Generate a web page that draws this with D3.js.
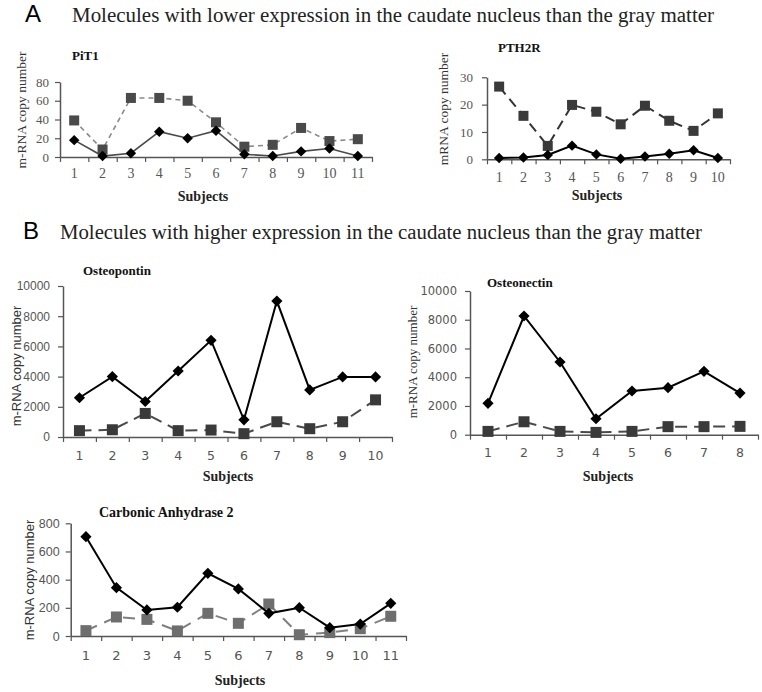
<!DOCTYPE html>
<html>
<head>
<meta charset="utf-8">
<script src="https://cdn.jsdelivr.net/npm/d3@7"></script>
<style>
  body { margin: 0; background: #fff; }
  svg { display: block; }
</style>
</head>
<body>
<svg id="fig" width="762" height="692"></svg>
<script>
// subjects (category labels)
var subjects8 = ['1', '2', '3', '4', '5', '6', '7', '8'];
var subjects10 = ['1', '2', '3', '4', '5', '6', '7', '8', '9', '10'];
var subjects11 = ['1', '2', '3', '4', '5', '6', '7', '8', '9', '10', '11'];

// diamonds = caudate nucleus, squares = gray matter
var pit1Caudate = [18, 1, 4, 27, 20, 28, 3, 1, 6, 9, 1];
var pit1Gray = [39, 8, 63, 63, 60, 37, 11, 13, 31, 17, 19];
var pth2rCaudate = [0.5, 0.7, 1.6, 5, 1.8, 0.2, 1, 2, 3.3, 0.5];
var pth2rGray = [26.6, 15.9, 4.9, 19.9, 17.4, 12.8, 19.6, 14.1, 10.4, 16.8];
var opnCaudate = [2600, 4000, 2350, 4370, 6400, 1140, 9000, 3120, 3980, 3980];
var opnGray = [420, 480, 1560, 420, 460, 220, 1010, 550, 1010, 2460];
var oncCaudate = [2180, 8260, 5060, 1110, 3040, 3270, 4410, 2900];
var oncGray = [230, 900, 230, 160, 230, 560, 560, 580];
var ca2Caudate = [705, 343, 185, 204, 445, 334, 161, 201, 59, 85, 232];
var ca2Gray = [38, 135, 118, 36, 161, 90, 227, 9, 24, 52, 140];

// y tick values
var pit1Ticks = [0, 20, 40, 60, 80];
var pth2rTicks = [0, 10, 20, 30];
var tenKTicks = [0, 2000, 4000, 6000, 8000, 10000];
var ca2Ticks = [0, 200, 400, 600, 800];

var svg = d3.select('#fig');
var SERIF = '"Liberation Serif", "Times New Roman", serif';
var SANS = '"DejaVu Sans", Verdana, sans-serif';
var NARROW = '"Liberation Sans Narrow", "Liberation Sans", sans-serif';
var ARIAL = '"Liberation Sans", Arial, sans-serif';

// section headings
function heading(letter, text, lx, tx, y, len) {
    svg.append('text')
        .attr('x', lx).attr('y', y)
        .attr('font-family', NARROW)
        .attr('font-size', 24)
        .attr('fill', '#000')
        .text(letter);
    svg.append('text')
        .attr('x', tx).attr('y', y)
        .attr('font-family', SERIF)
        .attr('font-size', 20)
        .attr('fill', '#222')
        .attr('textLength', len)
        .attr('lengthAdjust', 'spacingAndGlyphs')
        .text(text);
}
heading('A', 'Molecules with lower expression in the caudate nucleus than the gray matter', 25, 72, 22, 642);
heading('B', 'Molecules with higher expression in the caudate nucleus than the gray matter', 23, 60, 239, 642);

function drawPanel(p) {
    var g = svg.append('g');

    var x = d3.scaleBand()
        .domain(p.cats)
        .range([p.x0, p.x1])
        .padding(0);
    var xb = d3.scaleLinear()
        .domain([0, p.cats.length])
        .range([p.x0, p.x1]);
    var y = d3.scaleLinear()
        .domain([0, p.yMax])
        .range([p.y0, p.yTop]);

    // y axis
    var ya = g.append('g')
        .attr('transform', 'translate(' + p.x0 + ',0)')
        .call(d3.axisLeft(y).tickValues(p.yTicks).tickFormat(d3.format('d'))
            .tickSize(5).tickSizeOuter(0).tickPadding(p.yPad));
    ya.select('.domain').attr('stroke', '#555').attr('stroke-width', 1.5);
    ya.selectAll('.tick line').attr('stroke', '#555').attr('stroke-width', 1.2);
    ya.selectAll('.tick text')
        .attr('font-family', p.yFont || p.tickFont)
        .attr('font-size', p.yFontSize || p.tickSize)
        .attr('fill', '#555');

    // x axis: marks at band edges, labels in band centres
    var xm = g.append('g')
        .attr('transform', 'translate(0,' + p.y0 + ')')
        .call(d3.axisBottom(xb).tickValues(d3.range(p.cats.length + 1)).tickFormat('')
            .tickSize(5).tickSizeOuter(0));
    xm.select('.domain').attr('stroke', '#555').attr('stroke-width', 1.5);
    xm.selectAll('.tick line').attr('stroke', '#555').attr('stroke-width', 1.2);

    var xl = g.append('g')
        .attr('transform', 'translate(0,' + p.y0 + ')')
        .call(d3.axisBottom(x).tickSize(0).tickPadding(p.xPad));
    xl.select('.domain').remove();
    xl.selectAll('.tick text')
        .attr('font-family', p.tickFont)
        .attr('font-size', p.tickSize + 1)
        .attr('fill', '#555');

    var cx = function(d, i) { return x(p.cats[i]) + x.bandwidth() / 2; };

    // gray matter (squares, dashed)
    g.append('path')
        .datum(p.gray)
        .attr('fill', 'none')
        .attr('stroke', p.dashColor)
        .attr('stroke-width', p.dashWidth)
        .attr('stroke-dasharray', p.dash)
        .attr('d', d3.line().x(cx).y(function(d) { return y(d); }));
    g.append('g')
        .selectAll('rect')
        .data(p.gray)
        .enter()
        .append('rect')
            .attr('x', function(d, i) { return cx(d, i) - p.sq / 2; })
            .attr('y', function(d) { return y(d) - p.sq / 2; })
            .attr('width', p.sq)
            .attr('height', p.sq)
            .attr('fill', p.sqColor);

    // caudate nucleus (diamonds, solid)
    g.append('path')
        .datum(p.caudate)
        .attr('fill', 'none')
        .attr('stroke', p.solidColor)
        .attr('stroke-width', p.solidWidth)
        .attr('d', d3.line().x(cx).y(function(d) { return y(d); }));
    g.append('g')
        .selectAll('path')
        .data(p.caudate)
        .enter()
        .append('path')
            .attr('transform', function(d, i) { return 'translate(' + cx(d, i) + ',' + y(d) + ')'; })
            .attr('d', d3.symbol().type(d3.symbolDiamond2).size(p.dm))
            .attr('fill', '#000');

    // titles
    g.append('text')
        .attr('x', p.titleX).attr('y', p.titleY)
        .attr('font-family', SERIF)
        .attr('font-weight', 'bold')
        .attr('font-size', p.titleSize)
        .attr('fill', '#111')
        .text(p.title);

    g.append('text')
        .attr('x', p.subX).attr('y', p.subY)
        .attr('text-anchor', 'middle')
        .attr('font-family', SERIF)
        .attr('font-weight', 'bold')
        .attr('font-size', 14)
        .attr('fill', '#222')
        .text('Subjects');

    g.append('text')
        .attr('transform', 'translate(' + p.ylX + ',' + p.ylY + ') rotate(-90)')
        .attr('text-anchor', 'middle')
        .attr('dy', '0.35em')
        .attr('font-family', p.ylFont)
        .attr('font-size', p.ylSize)
        .attr('fill', '#333')
        .text(p.ylabel);
}

drawPanel({
    cats: subjects11, caudate: pit1Caudate, gray: pit1Gray,
    x0: 60, x1: 372, y0: 157, yTop: 82, yMax: 80, yTicks: pit1Ticks,
    tickFont: SERIF, tickSize: 13, yPad: 6, xPad: 11,
    dashColor: '#8a8a8a', dashWidth: 1.6, dash: '5,4', sq: 10, sqColor: '#4a4a4a',
    solidColor: '#4a4a4a', solidWidth: 1.6, dm: 70,
    title: 'PiT1', titleX: 72, titleY: 60, titleSize: 13,
    subX: 203, subY: 201,
    ylabel: 'm-RNA copy number', ylX: 21, ylY: 110, ylFont: SERIF, ylSize: 13.5
});

drawPanel({
    cats: subjects10, caudate: pth2rCaudate, gray: pth2rGray,
    x0: 487, x1: 730, y0: 159.3, yTop: 77.3, yMax: 30, yTicks: pth2rTicks,
    tickFont: SERIF, tickSize: 13, yPad: 9, xPad: 13,
    dashColor: '#333', dashWidth: 2, dash: '10,6', sq: 10, sqColor: '#3a3a3a',
    solidColor: '#000', solidWidth: 2, dm: 70,
    title: 'PTH2R', titleX: 498, titleY: 52, titleSize: 13,
    subX: 597, subY: 200,
    ylabel: 'mRNA copy number', ylX: 443, ylY: 109, ylFont: SERIF, ylSize: 13.5
});

drawPanel({
    cats: subjects10, caudate: opnCaudate, gray: opnGray,
    x0: 63, x1: 392, y0: 437, yTop: 286, yMax: 10000, yTicks: tenKTicks,
    tickFont: SANS, tickSize: 11.5, yFont: NARROW, yFontSize: 12, yPad: 8, xPad: 14,
    dashColor: '#4a4a4a', dashWidth: 2, dash: '12,7', sq: 11, sqColor: '#3a3a3a',
    solidColor: '#000', solidWidth: 2, dm: 80,
    title: 'Osteopontin', titleX: 83, titleY: 275, titleSize: 13,
    subX: 228, subY: 481,
    ylabel: 'm-RNA copy number', ylX: 16, ylY: 366, ylFont: ARIAL, ylSize: 13
});

drawPanel({
    cats: subjects8, caudate: oncCaudate, gray: oncGray,
    x0: 470, x1: 758, y0: 434.7, yTop: 291, yMax: 10000, yTicks: tenKTicks,
    tickFont: SANS, tickSize: 11.5, yPad: 8, xPad: 13,
    dashColor: '#4a4a4a', dashWidth: 2, dash: '12,7', sq: 11, sqColor: '#3a3a3a',
    solidColor: '#000', solidWidth: 2, dm: 80,
    title: 'Osteonectin', titleX: 487, titleY: 287, titleSize: 13,
    subX: 608, subY: 481,
    ylabel: 'm-RNA copy number', ylX: 412, ylY: 362, ylFont: SERIF, ylSize: 13
});

drawPanel({
    cats: subjects11, caudate: ca2Caudate, gray: ca2Gray,
    x0: 70.7, x1: 406, y0: 636, yTop: 523.3, yMax: 800, yTicks: ca2Ticks,
    tickFont: SANS, tickSize: 12, yFont: ARIAL, yFontSize: 12.5, yPad: 6, xPad: 15,
    dashColor: '#808080', dashWidth: 2, dash: '12,8', sq: 11, sqColor: '#6e6e6e',
    solidColor: '#000', solidWidth: 2, dm: 80,
    title: 'Carbonic Anhydrase 2', titleX: 99, titleY: 517, titleSize: 14,
    subX: 240, subY: 685,
    ylabel: 'm-RNA copy number', ylX: 29, ylY: 580, ylFont: ARIAL, ylSize: 13
});
</script>
</body>
</html>
